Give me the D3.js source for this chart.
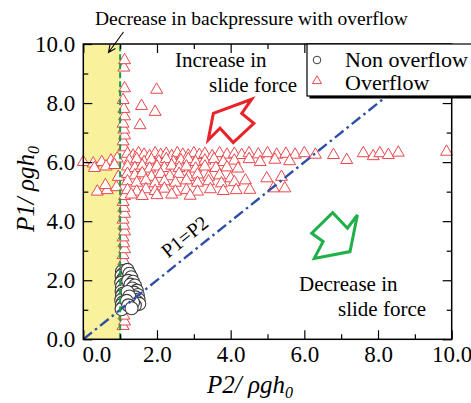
<!DOCTYPE html>
<html>
<head>
<meta charset="utf-8">
<script src="https://cdn.jsdelivr.net/npm/d3@7"></script>
</head>
<body style="margin:0;background:#fff">
<svg id="chart" width="471" height="403" font-family="Liberation Serif" style="display:block"></svg>
<script>
// P2 / rho g h0 (x) against P1 / rho g h0 (y)
const majorTicks = [0, 2, 4, 6, 8, 10]
const minorTicks = [1, 3, 5, 7, 9]

const nonOverflow = [
  [1.05, 2.30], [1.08, 2.22], [1.04, 2.15], [1.10, 2.08], [1.06, 2.00], [1.03, 1.92],
  [1.09, 1.85], [1.05, 1.78], [1.11, 1.70], [1.04, 1.62], [1.08, 1.55], [1.05, 1.47],
  [1.10, 1.40], [1.03, 1.32], [1.07, 1.25], [1.05, 1.17], [1.09, 1.10], [1.04, 1.02],
  [1.20, 2.35], [1.25, 2.22], [1.30, 2.10], [1.22, 1.98], [1.35, 1.95], [1.28, 1.85],
  [1.40, 1.82], [1.33, 1.72], [1.45, 1.65], [1.38, 1.58], [1.48, 1.50], [1.42, 1.42],
  [1.50, 1.35], [1.45, 1.28], [1.52, 1.20], [1.40, 1.15], [1.35, 1.25], [1.20, 1.60],
  [1.25, 1.45], [1.18, 1.30], [1.22, 1.15], [1.31, 1.05]
]

const overflowLeft = [
  [0.00, 6.00], [0.27, 5.95], [0.50, 6.00], [0.75, 6.05], [0.92, 6.12], [0.30, 5.80],
  [0.62, 5.85], [0.85, 5.90], [0.38, 5.00], [0.65, 5.05], [0.60, 5.22], [0.90, 5.15],
  [0.95, 5.50]
]

const overflowColumn = [
  [1.08, 0.45], [1.12, 0.60], [1.10, 0.80], [1.08, 1.00], [1.12, 1.20], [1.10, 1.40],
  [1.08, 1.60], [1.12, 1.80], [1.10, 2.00], [1.08, 2.20], [1.12, 2.45], [1.10, 2.65],
  [1.08, 2.85], [1.12, 3.05], [1.10, 3.25], [1.08, 3.45], [1.12, 3.65], [1.10, 3.85],
  [1.08, 4.05], [1.12, 4.25], [1.10, 4.45], [1.08, 4.65], [1.12, 4.85], [1.10, 6.50],
  [1.08, 6.70], [1.12, 6.90], [1.10, 7.10], [1.08, 7.30], [1.12, 7.55], [1.10, 7.80],
  [1.08, 8.10], [1.12, 8.50], [1.10, 9.20], [1.12, 9.45]
]

const overflowScatter = [[1.54, 7.25], [1.58, 7.90], [1.95, 7.70], [1.99, 8.45]]

const overflowBand = [
  [1.20, 6.28], [1.35, 6.22], [1.50, 6.30], [1.65, 6.25], [1.80, 6.20], [1.95, 6.30],
  [2.10, 6.24], [2.25, 6.28], [2.40, 6.20], [2.55, 6.30], [2.70, 6.25], [2.85, 6.22],
  [3.00, 6.30], [3.15, 6.24], [3.30, 6.28], [3.50, 6.20], [3.70, 6.30], [3.90, 6.25],
  [4.10, 6.28], [4.30, 6.24], [4.50, 6.30], [4.75, 6.26], [5.00, 6.30], [5.25, 6.25],
  [5.50, 6.28], [5.75, 6.25], [6.00, 6.30], [6.30, 6.25], [6.79, 6.24], [7.15, 6.07],
  [7.60, 6.30], [7.87, 6.20], [8.05, 6.30], [8.28, 6.24], [8.55, 6.32], [9.86, 6.35],
  [1.25, 6.05], [1.45, 6.10], [1.65, 6.00], [1.85, 6.08], [2.05, 6.02], [2.25, 6.10],
  [2.45, 6.00], [2.65, 6.06], [2.85, 6.10], [3.05, 6.00], [3.30, 6.05], [3.55, 6.10],
  [3.80, 6.00], [4.10, 6.05], [4.50, 6.10], [4.80, 6.00], [5.20, 6.08], [5.60, 6.03],
  [1.20, 5.85], [1.40, 5.80], [1.60, 5.88], [1.80, 5.78], [2.00, 5.85], [2.20, 5.80],
  [2.40, 5.88], [2.60, 5.80], [2.80, 5.85], [3.05, 5.78], [3.30, 5.85], [3.60, 5.80],
  [3.90, 5.82], [4.20, 5.78],
  [1.20, 5.60], [1.40, 5.55], [1.60, 5.62], [1.85, 5.50], [2.10, 5.60], [2.35, 5.52],
  [2.60, 5.60], [2.85, 5.50], [3.10, 5.58], [3.40, 5.50], [3.70, 5.55], [4.00, 5.45],
  [1.20, 5.35], [1.45, 5.30], [1.70, 5.38], [1.95, 5.28], [2.20, 5.35], [2.50, 5.30],
  [2.80, 5.38], [3.10, 5.30], [3.40, 5.35], [3.75, 5.28], [4.10, 5.32], [4.40, 5.38],
  [4.98, 5.45], [5.38, 5.50],
  [1.20, 5.05], [1.45, 5.00], [1.70, 5.08], [1.95, 5.02], [2.20, 5.10], [2.50, 5.00],
  [2.80, 5.05], [3.10, 5.00], [3.45, 5.08], [3.80, 5.02], [4.15, 5.05], [4.52, 5.06],
  [5.16, 5.11], [5.47, 5.11],
  [1.30, 4.90], [1.60, 4.85], [2.00, 4.88], [2.40, 4.90], [2.90, 4.86]
]

// block arrows, in data units
const arrowUp = [[4.57, 8.13], [3.53, 7.65], [3.39, 6.75], [3.71, 7.15], [4.07, 6.66], [4.63, 7.31], [4.30, 7.65]]
const arrowDown = [[6.77, 4.29], [6.20, 3.59], [6.51, 3.31], [6.27, 2.74], [7.24, 2.97], [7.44, 4.21], [7.17, 3.76]]

const serif = 'Liberation Serif'
const triColor = '#e8484c'
const circColor = '#3c3c3c'

const svg = d3.select('#chart')

const x = d3.scaleLinear().domain([0, 10]).range([83.3, 451.7])
const y = d3.scaleLinear().domain([0, 10]).range([339.3, 44])

svg.append('defs').append('clipPath').attr('id', 'plot')
  .append('rect')
    .attr('x', x(0)).attr('y', y(10))
    .attr('width', x(10) - x(0)).attr('height', y(0) - y(10))

// yellow zone P2 < 1
svg.append('rect')
  .attr('x', x(0)).attr('y', y(10))
  .attr('width', x(1) - x(0)).attr('height', y(0) - y(10))
  .attr('fill', '#f9f19c')

const tri = d3.symbol(d3.symbolTriangle, 62)
const overflow = overflowLeft.concat(overflowColumn, overflowScatter, overflowBand)

svg.append('g').selectAll('path')
  .data(overflow)
  .join('path')
    .attr('d', tri)
    .attr('transform', (d) => `translate(${x(d[0])},${y(d[1])})`)
    .attr('fill', '#fff')
    .attr('stroke', triColor)
    .attr('stroke-width', 1)

svg.append('g').selectAll('circle')
  .data(nonOverflow)
  .join('circle')
    .attr('cx', (d) => x(d[0]))
    .attr('cy', (d) => y(d[1]))
    .attr('r', 6.5)
    .attr('fill', '#fff')
    .attr('stroke', circColor)
    .attr('stroke-width', 1.1)

// P1 = P2
svg.append('line')
  .attr('clip-path', 'url(#plot)')
  .attr('x1', x(0)).attr('y1', y(0))
  .attr('x2', x(10)).attr('y2', y(10))
  .attr('stroke', '#2f4fa6')
  .attr('stroke-width', 2.4)
  .attr('stroke-dasharray', '11,4,2.5,4')

svg.append('line')
  .attr('x1', x(1)).attr('y1', y(0))
  .attr('x2', x(1)).attr('y2', y(10))
  .attr('stroke', '#1e9a40')
  .attr('stroke-width', 2)
  .attr('stroke-dasharray', '6,3')

// axes, ticks pointing inward on all four sides
const fmt = (d) => d.toFixed(1)
const tidy = (g) => {
  g.attr('font-family', serif)
  g.select('.domain').remove()
  g.selectAll('line').attr('stroke', '#000').attr('stroke-width', 1.2)
  g.selectAll('text').attr('fill', '#000').attr('font-size', 23)
}

svg.append('g').attr('transform', `translate(0,${y(0)})`)
  .call(d3.axisBottom(x).tickValues(majorTicks).tickSize(-9).tickFormat(fmt))
  .call(tidy)
  .call((g) => g.selectAll('text').attr('y', 22.7).attr('dy', 0)
    .attr('dx', (d) => d === 0 ? 13 : 0))
svg.append('g').attr('transform', `translate(0,${y(0)})`)
  .call(d3.axisBottom(x).tickValues(minorTicks).tickSize(-5).tickFormat(''))
  .call(tidy)

svg.append('g').attr('transform', `translate(${x(0)},0)`)
  .call(d3.axisLeft(y).tickValues(majorTicks).tickSize(-9).tickPadding(8).tickFormat(fmt))
  .call(tidy)
svg.append('g').attr('transform', `translate(${x(0)},0)`)
  .call(d3.axisLeft(y).tickValues(minorTicks).tickSize(-5).tickFormat(''))
  .call(tidy)

svg.append('g').attr('transform', `translate(0,${y(10)})`)
  .call(d3.axisTop(x).tickValues(majorTicks).tickSize(-9).tickFormat(''))
  .call(tidy)
svg.append('g').attr('transform', `translate(0,${y(10)})`)
  .call(d3.axisTop(x).tickValues(minorTicks).tickSize(-5).tickFormat(''))
  .call(tidy)

svg.append('g').attr('transform', `translate(${x(10)},0)`)
  .call(d3.axisRight(y).tickValues(majorTicks).tickSize(-9).tickFormat(''))
  .call(tidy)
svg.append('g').attr('transform', `translate(${x(10)},0)`)
  .call(d3.axisRight(y).tickValues(minorTicks).tickSize(-5).tickFormat(''))
  .call(tidy)

svg.append('rect')
  .attr('x', x(0)).attr('y', y(10))
  .attr('width', x(10) - x(0)).attr('height', y(0) - y(10))
  .attr('fill', 'none')
  .attr('stroke', '#000')
  .attr('stroke-width', 1.5)

// axis titles
const yTitle = svg.append('text')
  .attr('transform', 'translate(34,189) rotate(-90)')
  .attr('text-anchor', 'middle')
  .attr('font-family', serif)
  .attr('font-size', 25)
  .attr('font-style', 'italic')
yTitle.append('tspan').text('P1/ \u03c1gh')
yTitle.append('tspan').attr('font-size', 16).attr('dy', 5).text('0')

const xTitle = svg.append('text')
  .attr('x', 207).attr('y', 393)
  .attr('font-family', serif)
  .attr('font-size', 25)
  .attr('font-style', 'italic')
xTitle.append('tspan').text('P2/ \u03c1gh')
xTitle.append('tspan').attr('font-size', 16).attr('dy', 5).text('0')

// annotations
svg.append('text').attr('x', 95).attr('y', 25)
  .attr('font-family', serif).attr('font-size', 19.5)
  .text('Decrease in backpressure with overflow')
svg.append('path')
  .attr('d', 'M123.5,32 L108.5,52.5 M115.5,48.6 L108.5,52.5 L110,44.6')
  .attr('fill', 'none').attr('stroke', '#000').attr('stroke-width', 1.1)

const note = (tx, ty, s) => svg.append('text')
  .attr('x', tx).attr('y', ty)
  .attr('font-family', serif).attr('font-size', 21).text(s)
note(175, 67, 'Increase in')
note(209, 92, 'slide force')
note(299, 291, 'Decrease in')
note(338, 316, 'slide force')

svg.append('text')
  .attr('transform', `translate(189,242) rotate(${Math.atan2(y(0) - y(1), x(1) - x(0)) * -180 / Math.PI})`)
  .attr('text-anchor', 'middle')
  .attr('font-family', serif)
  .attr('font-size', 20)
  .text('P1=P2')

const poly = d3.line().x((d) => x(d[0])).y((d) => y(d[1]))
svg.append('path').attr('d', poly(arrowUp) + 'Z')
  .attr('fill', '#fff').attr('stroke', '#e8242a').attr('stroke-width', 3)
  .attr('stroke-linejoin', 'miter')
svg.append('path').attr('d', poly(arrowDown) + 'Z')
  .attr('fill', '#fff').attr('stroke', '#1fb04a').attr('stroke-width', 3)
  .attr('stroke-linejoin', 'miter')

// legend
const legend = svg.append('g').attr('font-family', serif)
legend.append('rect').attr('x', 309.5).attr('y', 46.5).attr('width', 170).attr('height', 52).attr('fill', '#000')
legend.append('rect').attr('x', 307).attr('y', 44).attr('width', 170).attr('height', 52)
  .attr('fill', '#fff').attr('stroke', '#000').attr('stroke-width', 1.2)
legend.append('circle').attr('cx', 317).attr('cy', 60).attr('r', 3.8)
  .attr('fill', '#fff').attr('stroke', circColor).attr('stroke-width', 1)
legend.append('path').attr('d', d3.symbol(d3.symbolTriangle, 36)())
  .attr('transform', 'translate(317,81)')
  .attr('fill', '#fff').attr('stroke', triColor).attr('stroke-width', 1)
legend.append('text').attr('x', 345).attr('y', 67).attr('font-size', 22).text('Non overflow')
legend.append('text').attr('x', 345).attr('y', 90).attr('font-size', 22).text('Overflow')
</script>
</body>
</html>
